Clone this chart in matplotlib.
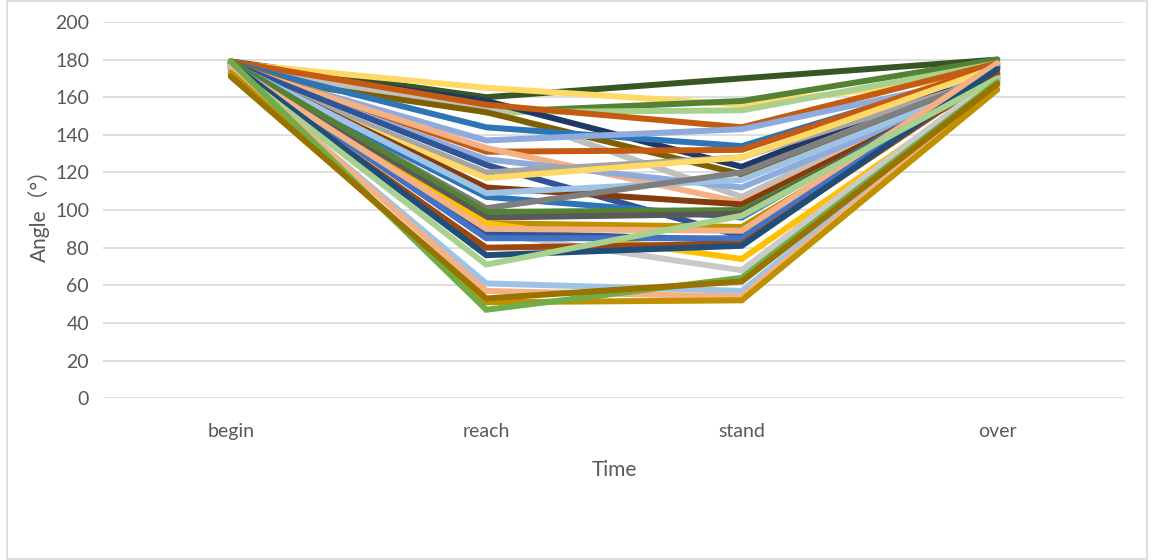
import matplotlib.pyplot as plt
from matplotlib.patches import Rectangle

# categories on the x axis
time_points = ["begin", "reach", "stand", "over"]

# one entry per subject: angle at begin / reach / stand / over (degrees)
begin_vals = [179, 178, 179, 178, 177, 176, 172, 179, 178, 176,
              178, 177, 176, 178, 175, 173, 177, 176, 178, 177,
              179, 175, 174, 172, 177, 176, 178, 175, 177, 178,
              176, 175, 177, 173, 179, 171]
reach_vals = [160, 165, 152, 152, 158, 154, 152, 156, 144, 137,
              131, 133, 127, 124, 120, 117, 112, 107, 109, 101,
              99, 96, 93, 93, 88, 88, 85, 80, 90, 76,
              71, 61, 57, 51, 47, 53]
stand_vals = [170, 156, 158, 153, 123, 107, 119, 144, 134, 143,
              132, 104, 112, 86, 128, 128, 103, 96, 116, 120,
              100, 98, 91, 74, 68, 84, 85, 82, 89, 81,
              97, 57, 54, 52, 64, 62]
over_vals = [180, 172, 180, 178, 176, 172, 170, 178, 175, 172,
             177, 170, 168, 176, 171, 176, 170, 174, 169, 172,
             168, 170, 172, 168, 171, 176, 177, 173, 178, 175,
             170, 166, 166, 164, 168, 167]

series_colors = ["#375623", "#FFD966", "#548235", "#A9D18E", "#1F3864", "#BFBFBF",
                 "#7F6000", "#C55A11", "#2E75B6", "#8FAADC", "#C55A11", "#F4B183",
                 "#8FAADC", "#2F5597", "#A5A5A5", "#FFD966", "#843C0C", "#2E75B6",
                 "#9DC3E6", "#7F7F7F", "#548235", "#595959", "#BF9000", "#FFC000",
                 "#C9C9C9", "#2F5597", "#4472C4", "#9E480E", "#F4B183", "#1F4E79",
                 "#A9D18E", "#9DC3E6", "#F4B183", "#BF9000", "#70AD47", "#997300"]

font_list = ["Lato", "Noto Sans CJK SC", "DejaVu Sans"]
plt.rcParams["font.family"] = font_list

fig = plt.figure(figsize=(11.52, 5.6), dpi=100)
ax = fig.add_axes([0.0894, 0.289, 0.8872, 0.6718])

x = list(range(len(time_points)))
for i in range(len(begin_vals)):
    ys = [begin_vals[i], reach_vals[i], stand_vals[i], over_vals[i]]
    ax.plot(x, ys, color=series_colors[i], linewidth=4.3,
            solid_capstyle="round", solid_joinstyle="miter")

ax.set_xlim(-0.5, len(time_points) - 0.5)
ax.set_ylim(0, 200)
ax.set_yticks(range(0, 201, 20))
ax.set_xticks(x)
ax.set_xticklabels(time_points)
ax.grid(axis="y", color="#D9D9D9", linewidth=1.2)
ax.set_axisbelow(True)
for s in ax.spines.values():
    s.set_visible(False)
ax.tick_params(axis="both", length=0, labelsize=14, colors="#595959", pad=10)
ax.tick_params(axis="x", pad=18)

ax.set_xlabel("Time", fontsize=15, color="#595959", labelpad=14)
ax.set_ylabel("Angle（°）", fontsize=15, color="#595959", labelpad=4)

# light chart-area border
fig.patches.append(Rectangle((0.006, 0.002), 0.99, 0.996, transform=fig.transFigure,
                             fill=False, edgecolor="#D9D9D9", linewidth=1.2))

fig.savefig("out.png", dpi=100)
